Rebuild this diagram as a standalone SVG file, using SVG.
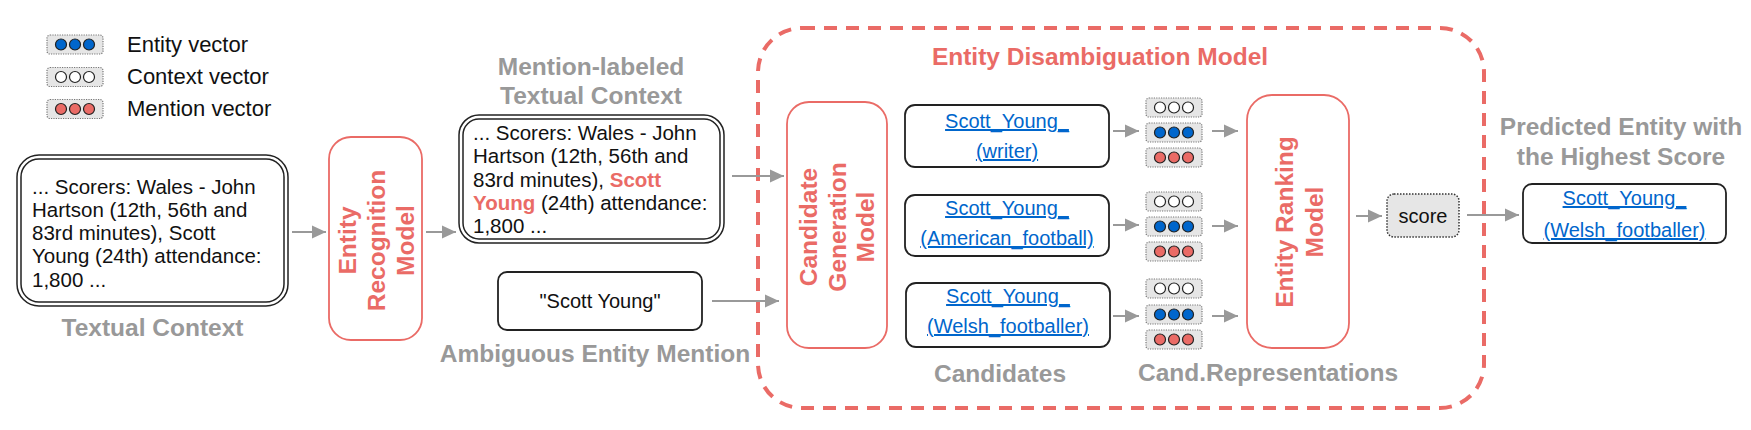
<svg xmlns="http://www.w3.org/2000/svg" width="1751" height="430" viewBox="0 0 1751 430">
<style>
text{font-family:"Liberation Sans",Arial,Helvetica,sans-serif;}
.body{font-size:20.5px;fill:#111;}
.leg{font-size:22px;fill:#111;}
.lbl{font-size:24.5px;font-weight:bold;fill:#999;}
.red{font-size:24.5px;font-weight:bold;fill:#ea6b66;}
.hl{font-weight:bold;fill:#ea6b66;}
.link{font-size:20px;fill:#0066cc;text-decoration:underline;}
.plain{fill:#fff;stroke:#222;stroke-width:1.8;}
.dbl{fill:none;stroke:#222;stroke-width:1.5;}
.model{fill:#fff;stroke:#ea6b66;stroke-width:1.8;}
.vbox{fill:#e6e6e6;stroke:#777;stroke-width:1.2;stroke-dasharray:1.2 1.2;}
.cb{fill:#0066cc;stroke:#222;stroke-width:1.2;}
.cw{fill:#fff;stroke:#222;stroke-width:1.2;}
.cr{fill:#ea6b66;stroke:#222;stroke-width:1.2;}
.conn{stroke:#999;stroke-width:2;fill:none;marker-end:url(#ah);}
</style>
<defs>
<marker id="ah" markerUnits="userSpaceOnUse" markerWidth="14" markerHeight="14" refX="14" refY="7" orient="auto"><path d="M0,0.5 L14,7 L0,13.5 z" fill="#999"/></marker>
<g id="vE"><rect class="vbox" x="0" y="0" width="56" height="19" rx="3"/><circle class="cb" cx="14" cy="9.5" r="5.5"/><circle class="cb" cx="28" cy="9.5" r="5.5"/><circle class="cb" cx="42" cy="9.5" r="5.5"/></g>
<g id="vC"><rect class="vbox" x="0" y="0" width="56" height="19" rx="3"/><circle class="cw" cx="14" cy="9.5" r="5.5"/><circle class="cw" cx="28" cy="9.5" r="5.5"/><circle class="cw" cx="42" cy="9.5" r="5.5"/></g>
<g id="vM"><rect class="vbox" x="0" y="0" width="56" height="19" rx="3"/><circle class="cr" cx="14" cy="9.5" r="5.5"/><circle class="cr" cx="28" cy="9.5" r="5.5"/><circle class="cr" cx="42" cy="9.5" r="5.5"/></g>
</defs>

<g id="legend">
<use href="#vE" x="47" y="35"/>
<text class="leg" x="127" y="52">Entity vector</text>
<use href="#vC" x="47" y="67.5"/>
<text class="leg" x="127" y="84">Context vector</text>
<use href="#vM" x="47" y="99.5"/>
<text class="leg" x="127" y="116">Mention vector</text>
</g>

<g id="textual-context">
<rect class="dbl" x="17" y="155" width="271" height="151" rx="22"/>
<rect class="dbl" x="21" y="159" width="263" height="143" rx="18"/>
<text class="body" x="32" y="194">... Scorers: Wales - John</text>
<text class="body" x="32" y="217">Hartson (12th, 56th and</text>
<text class="body" x="32" y="240">83rd minutes), Scott</text>
<text class="body" x="32" y="263">Young (24th) attendance:</text>
<text class="body" x="32" y="287">1,800 ...</text>
<text class="lbl" x="152.5" y="336" text-anchor="middle">Textual Context</text>
</g>

<g id="entity-recognition-model">
<rect class="model" x="329" y="137" width="93" height="203" rx="22"/>
<g transform="translate(376,240.5) rotate(-90)" class="red" text-anchor="middle">
<text x="0" y="-20.5">Entity</text>
<text x="0" y="8.5">Recognition</text>
<text x="0" y="37.5">Model</text>
</g>
</g>

<g id="mention-labeled-context">
<text class="lbl" x="591" y="75" text-anchor="middle">Mention-labeled</text>
<text class="lbl" x="591" y="104" text-anchor="middle">Textual Context</text>
<rect class="dbl" x="459" y="115" width="265" height="128" rx="20"/>
<rect class="dbl" x="463" y="119" width="257" height="120" rx="16"/>
<text class="body" x="473" y="140">... Scorers: Wales - John</text>
<text class="body" x="473" y="163">Hartson (12th, 56th and</text>
<text class="body" x="473" y="187">83rd minutes), <tspan class="hl">Scott</tspan></text>
<text class="body" x="473" y="210"><tspan class="hl">Young</tspan> (24th) attendance:</text>
<text class="body" x="473" y="233">1,800 ...</text>
</g>

<g id="ambiguous-mention">
<rect class="plain" x="498" y="272" width="204" height="58" rx="9"/>
<text class="body" x="600" y="308" text-anchor="middle" style="font-size:20px">"Scott Young"</text>
<text class="lbl" x="595" y="362" text-anchor="middle">Ambiguous Entity Mention</text>
</g>

<g id="entity-disambiguation-model">
<rect x="758" y="28" width="726" height="380" rx="44" fill="none" stroke="#ea6b66" stroke-width="4" stroke-dasharray="13 9"/>
<text class="red" x="1100" y="65" text-anchor="middle">Entity Disambiguation Model</text>
</g>

<g id="candidate-generation-model">
<rect class="model" x="787" y="102" width="100" height="246" rx="22"/>
<g transform="translate(837,227) rotate(-90)" class="red" text-anchor="middle">
<text x="0" y="-20">Candidate</text>
<text x="0" y="8.5">Generation</text>
<text x="0" y="37">Model</text>
</g>
</g>

<g id="candidate-writer">
<rect class="plain" x="905" y="105" width="204" height="62" rx="10"/>
<text class="link" x="1007" y="128" text-anchor="middle">Scott_Young_</text>
<text class="link" x="1007" y="158" text-anchor="middle">(writer)</text>
</g>
<g id="candidate-american-football">
<rect class="plain" x="905" y="195" width="204" height="61" rx="10"/>
<text class="link" x="1007" y="215" text-anchor="middle">Scott_Young_</text>
<text class="link" x="1007" y="245" text-anchor="middle">(American_football)</text>
</g>
<g id="candidate-welsh-footballer">
<rect class="plain" x="906" y="283" width="204" height="64" rx="10"/>
<text class="link" x="1008" y="303" text-anchor="middle">Scott_Young_</text>
<text class="link" x="1008" y="333" text-anchor="middle">(Welsh_footballer)</text>
<text class="lbl" x="1000" y="382" text-anchor="middle">Candidates</text>
</g>

<g id="cand-representation-1">
<use href="#vC" x="1146" y="98"/>
<use href="#vE" x="1146" y="123"/>
<use href="#vM" x="1146" y="148"/>
</g>
<g id="cand-representation-2">
<use href="#vC" x="1146" y="192"/>
<use href="#vE" x="1146" y="217"/>
<use href="#vM" x="1146" y="242"/>
</g>
<g id="cand-representation-3">
<use href="#vC" x="1146" y="279"/>
<use href="#vE" x="1146" y="305"/>
<use href="#vM" x="1146" y="330"/>
<text class="lbl" x="1268" y="381" text-anchor="middle">Cand.Representations</text>
</g>

<g id="entity-ranking-model">
<rect class="model" x="1247" y="95" width="102" height="253" rx="25"/>
<g transform="translate(1299,222) rotate(-90)" class="red" text-anchor="middle">
<text x="0" y="-6">Entity Ranking</text>
<text x="0" y="23.5">Model</text>
</g>
</g>

<g id="score">
<rect x="1387" y="194" width="72" height="43" rx="7" fill="#e6e6e6" stroke="#333" stroke-width="1.5" stroke-dasharray="1.5 1.5"/>
<text class="body" x="1423" y="223" text-anchor="middle" style="font-size:20px">score</text>
</g>

<g id="predicted-entity">
<text class="lbl" x="1621" y="135" text-anchor="middle">Predicted Entity with</text>
<text class="lbl" x="1621" y="165" text-anchor="middle">the Highest Score</text>
<rect class="plain" x="1523" y="184" width="203" height="59" rx="9"/>
<text class="link" x="1624.5" y="205" text-anchor="middle">Scott_Young_</text>
<text class="link" x="1624.5" y="237" text-anchor="middle">(Welsh_footballer)</text>
</g>

<g id="connectors">
<line class="conn" x1="292" y1="232" x2="326" y2="232"/>
<line class="conn" x1="426" y1="232" x2="456" y2="232"/>
<line class="conn" x1="732" y1="176" x2="784" y2="176"/>
<line class="conn" x1="712" y1="301" x2="779" y2="301"/>
<line class="conn" x1="1113" y1="131" x2="1139" y2="131"/>
<line class="conn" x1="1113" y1="225" x2="1139" y2="225"/>
<line class="conn" x1="1113" y1="316" x2="1139" y2="316"/>
<line class="conn" x1="1212" y1="131" x2="1238" y2="131"/>
<line class="conn" x1="1212" y1="226" x2="1238" y2="226"/>
<line class="conn" x1="1212" y1="316" x2="1238" y2="316"/>
<line class="conn" x1="1356" y1="216" x2="1382" y2="216"/>
<line class="conn" x1="1467" y1="215" x2="1519" y2="215"/>
</g>
</svg>
